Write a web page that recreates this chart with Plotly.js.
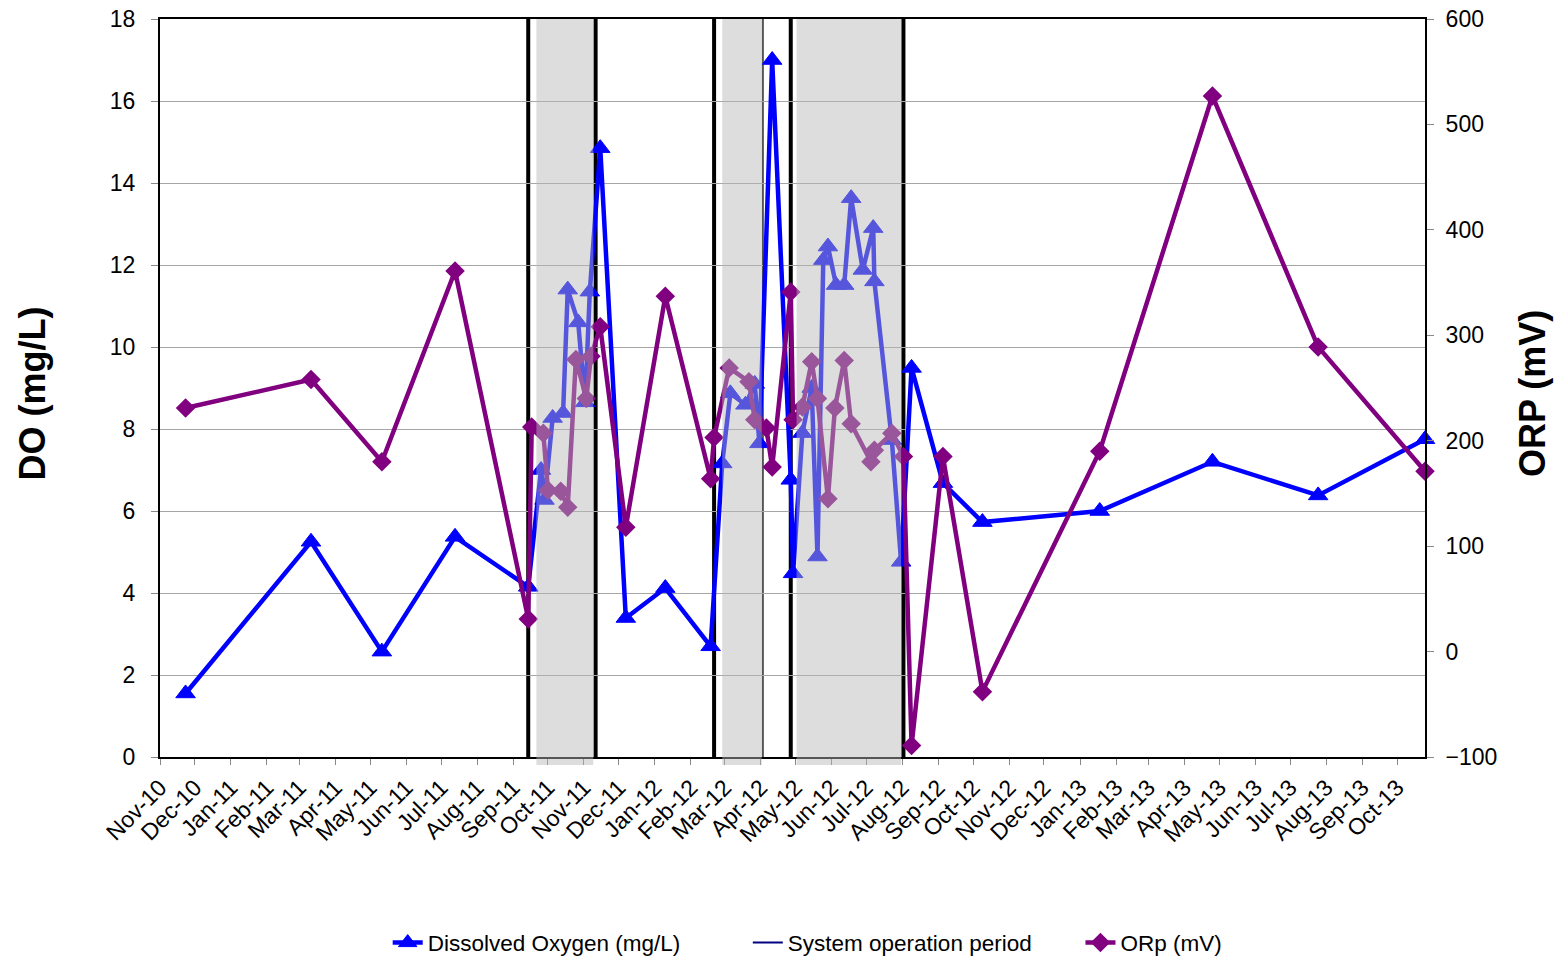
<!DOCTYPE html>
<html><head><meta charset="utf-8">
<script src="https://cdn.plot.ly/plotly-3.0.1.min.js"></script>
<style>html,body{margin:0;padding:0;background:#fff}#chart{width:1558px;height:959px}</style>
</head><body><div id="chart"></div><script>
// ---- data ----
const doDates = ['2010-11-23','2011-03-11','2011-05-11','2011-07-13','2011-09-14',
  '2011-09-25','2011-09-28','2011-10-05','2011-10-14','2011-10-18','2011-10-27','2011-11-02','2011-11-06',
  '2011-11-15','2011-12-07','2012-01-10','2012-02-18',
  '2012-02-28','2012-03-06','2012-03-19','2012-03-27','2012-03-31',
  '2012-04-11','2012-04-27',
  '2012-04-29','2012-05-07','2012-05-15','2012-05-20','2012-05-25','2012-05-29','2012-06-05','2012-06-12',
  '2012-06-18','2012-06-28','2012-07-07','2012-07-08','2012-07-23','2012-07-31',
  '2012-08-09','2012-09-05','2012-10-09','2013-01-18','2013-04-25','2013-07-25','2013-10-25'];
const doValues = [1.55,5.25,2.57,5.37,4.15,
  7.0,6.27,8.27,8.39,11.4,10.6,8.65,11.35,
  14.85,3.39,4.12,2.7,
  7.16,8.87,8.59,9.1,7.65,
  17.0,6.76,
  4.48,7.9,9.0,4.89,12.12,12.45,11.51,11.51,
  13.63,11.88,12.9,11.6,7.73,4.76,
  9.49,6.68,5.73,6.0,7.2,6.38,7.75];

const orpDates = ['2010-11-23','2011-03-11','2011-05-11','2011-07-13','2011-09-14',
  '2011-09-17','2011-09-27','2011-10-01','2011-10-12','2011-10-18','2011-10-25','2011-11-03','2011-11-07',
  '2011-11-15','2011-12-07','2012-01-10','2012-02-18','2012-02-21',
  '2012-03-05','2012-03-22','2012-03-27','2012-04-06','2012-04-11','2012-04-27',
  '2012-04-29','2012-05-07','2012-05-15','2012-05-20','2012-05-29','2012-06-04','2012-06-12','2012-06-18',
  '2012-07-05','2012-07-08','2012-07-23','2012-08-02',
  '2012-08-09','2012-09-05','2012-10-09','2013-01-18','2013-04-25','2013-07-25','2013-10-25'];
const orpValues = [231,258,180,361,31,
  213,207,153,152,137,277,240,280,
  308,118,337,164,203,
  269,256,220,212,175,341,
  220,232,275,240,145,231,276,216,
  180,191,207,185,
  -89,185,-38,190,527,289,171];

const tickDates = ['2010-11-01','2010-12-01','2011-01-01','2011-02-01','2011-03-01','2011-04-01','2011-05-01','2011-06-01',
  '2011-07-01','2011-08-01','2011-09-01','2011-10-01','2011-11-01','2011-12-01','2012-01-01','2012-02-01',
  '2012-03-01','2012-04-01','2012-05-01','2012-06-01','2012-07-01','2012-08-01','2012-09-01','2012-10-01',
  '2012-11-01','2012-12-01','2013-01-01','2013-02-01','2013-03-01','2013-04-01','2013-05-01','2013-06-01',
  '2013-07-01','2013-08-01','2013-09-01','2013-10-01'];
const tickLabels = ['Nov-10','Dec-10','Jan-11','Feb-11','Mar-11','Apr-11','May-11','Jun-11',
  'Jul-11','Aug-11','Sep-11','Oct-11','Nov-11','Dec-11','Jan-12','Feb-12',
  'Mar-12','Apr-12','May-12','Jun-12','Jul-12','Aug-12','Sep-12','Oct-12',
  'Nov-12','Dec-12','Jan-13','Feb-13','Mar-13','Apr-13','May-13','Jun-13',
  'Jul-13','Aug-13','Sep-13','Oct-13'];

const periodLines = ['2011-09-14','2011-11-11','2012-02-21','2012-04-27','2012-08-02'];
const periodThinLines = ['2012-04-03'];
const shadeStart = ['2011-09-21','2012-02-28','2012-05-02'];
const shadeEnd = ['2011-11-09','2012-04-02','2012-07-31'];

const xRange = ['2010-11-01','2013-10-25'];
// ---- chart ----
const FONT = 'Liberation Sans, Arial, sans-serif';
const pad = n => '\u00a0'.repeat(n);

const traces = [
  {x: doDates, y: doValues, name: 'Dissolved Oxygen (mg/L)' + pad(10), mode: 'lines+markers', yaxis: 'y',
   line: {color: '#0000FF', width: 4.5},
   marker: {symbol: 'triangle-up', size: 17, color: '#0000FF', line: {color: '#0000FF', width: 1}}, cliponaxis: false},
  {x: [null], y: [null], name: 'System operation period' + pad(7), mode: 'lines', yaxis: 'y',
   line: {color: '#000080', width: 2}},
  {x: orpDates, y: orpValues, name: 'ORp (mV)', mode: 'lines+markers', yaxis: 'y2',
   line: {color: '#800080', width: 4.5},
   marker: {symbol: 'diamond', size: 15, color: '#800080'}, cliponaxis: false}
];

const shapes = [];
periodLines.forEach(d => shapes.push({type: 'line', xref: 'x', yref: 'paper', x0: d, x1: d, y0: 0, y1: 1,
  line: {color: '#000000', width: 4}, layer: 'between'}));
periodThinLines.forEach(d => shapes.push({type: 'line', xref: 'x', yref: 'paper', x0: d, x1: d, y0: 0, y1: 1,
  line: {color: '#555555', width: 2}, layer: 'between'}));
shadeStart.forEach((d, i) => shapes.push({type: 'rect', xref: 'x', yref: 'paper', x0: d, x1: shadeEnd[i], y0: -0.011, y1: 1,
  fillcolor: 'rgba(182,182,182,0.47)', line: {width: 0}, layer: 'above'}));

const annotations = [
  {text: '<b>DO (mg/L)</b>', xref: 'paper', yref: 'paper', x: -0.1004, y: 0.4925, xanchor: 'center', yanchor: 'middle',
   textangle: -90, showarrow: false, font: {family: FONT, size: 36, color: '#000'}},
  {text: '<b>ORP (mV)</b>', xref: 'paper', yref: 'paper', x: 1.0854, y: 0.4919, xanchor: 'center', yanchor: 'middle',
   textangle: -90, showarrow: false, font: {family: FONT, size: 36, color: '#000'}}
];

const layout = {
  width: 1558, height: 959,
  margin: {l: 160, r: 133, t: 19, b: 202, autoexpand: false},
  paper_bgcolor: '#ffffff', plot_bgcolor: '#ffffff',
  font: {family: FONT, color: '#000000', size: 22},
  showlegend: true,
  legend: {orientation: 'h', x: 0.18, xanchor: 'left', y: -0.252, yanchor: 'middle',
    font: {family: FONT, size: 22.5, color: '#000'}, bgcolor: 'rgba(0,0,0,0)'},
  xaxis: {type: 'date', range: xRange, tickvals: tickDates, ticktext: tickLabels, tickangle: -45,
    ticks: 'outside', ticklen: 6, tickcolor: '#888888', tickwidth: 1, automargin: false,
    showline: true, linecolor: '#000000', linewidth: 2, mirror: true, showgrid: false, zeroline: false,
    tickfont: {family: FONT, size: 23, color: '#000'}},
  yaxis: {range: [0, 18], tick0: 0, dtick: 2, showgrid: true, gridcolor: '#a6a6a6', gridwidth: 1,
    ticks: 'outside', ticklen: 7, tickcolor: '#888888', showline: true, linecolor: '#000000', linewidth: 2,
    zeroline: false, ticklabelstandoff: 11, automargin: false,
    tickfont: {family: FONT, size: 23, color: '#000'}},
  yaxis2: {range: [-100, 600], tick0: -100, dtick: 100, overlaying: 'y', side: 'right', showgrid: false,
    ticks: 'outside', ticklen: 7, tickcolor: '#888888', showline: true, linecolor: '#000000', linewidth: 2,
    zeroline: false, ticklabelstandoff: 7, automargin: false,
    tickfont: {family: FONT, size: 23, color: '#000'}},
  shapes: shapes,
  annotations: annotations
};

Plotly.newPlot('chart', traces, layout, {displayModeBar: false, responsive: false});
</script></body></html>
